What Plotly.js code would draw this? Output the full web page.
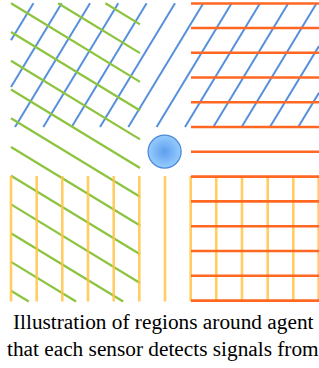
<!DOCTYPE html>
<html><head><meta charset="utf-8">
<script src="https://cdn.plot.ly/plotly-3.0.1.min.js"></script>
<style>html,body{margin:0;padding:0;background:#fff}#c{width:319px;height:368px}</style>
</head><body><div id="c"></div>
<script>
// ---- data (pixel units of the diagram) ----
// yellow vertical hatch (bottom half): x positions
const yellowX = [11, 36.7, 62.3, 88, 113.7, 139.3, 165, 190.7, 216.3, 242, 267.7, 293.3, 318.6];
const yellowBand = [176, 301.5];            // y extent
// orange horizontal hatch (right half): y positions
const orangeY = [3.5, 28, 52.7, 77.5, 102.2, 127, 151.8, 176.6, 201.4, 226.2, 251, 275.8, 300.6];
const orangeBand = [191, 319];              // x extent
// blue ascending hatch (top half): x where each line meets the top edge
const blueTopX = [33.4, 61.7, 90, 118.3, 146.6, 175, 203.3, 231.6, 260, 288.3, 316.6, 344.9, 373.2];
const blueSlope = 1.65;
const blueBox = [11, 319, 3.3, 127];        // x0,x1,y0,y1
// green descending hatch (left half): y where each line meets the left edge
const greenLeftY = [-54.2, -25.4, 3.3, 32, 60.8, 89.5, 118.2, 147, 175.7, 204.4, 233.2, 261.9, 290.7];
const greenSlope = 0.609;
const greenBox = [11, 140, 3.3, 301.5];
// agent
const agent = {x: [164.6], y: [151.6]};
const caption = ["Illustration of regions around agent", "that each sensor detects signals from"];

// ---- helpers ----
function clip(px, py, dx, dy, box) {
  let t0 = -1e5, t1 = 1e5;
  const p = [-dx, dx, -dy, dy], q = [px - box[0], box[1] - px, py - box[2], box[3] - py];
  for (let i = 0; i < 4; i++) {
    if (p[i] === 0) { if (q[i] < 0) return null; }
    else { const r = q[i] / p[i]; if (p[i] < 0) t0 = Math.max(t0, r); else t1 = Math.min(t1, r); }
  }
  if (t0 > t1) return null;
  return [[px + t0 * dx, py + t0 * dy], [px + t1 * dx, py + t1 * dy]];
}
function segTrace(segs, color, width) {
  const x = [], y = [];
  segs.forEach(s => { if (s) { x.push(s[0][0], s[1][0], null); y.push(s[0][1], s[1][1], null); } });
  return {type: 'scatter', mode: 'lines', x, y, line: {color, width}, hoverinfo: 'skip', showlegend: false, connectgaps: false};
}

const blue = segTrace(blueTopX.map(x0 => clip(x0, blueBox[2], -1, blueSlope, blueBox)), '#5690DC', 2);
const green = segTrace(greenLeftY.map(y0 => clip(greenBox[0], y0, 1, greenSlope, greenBox)), '#8CC43E', 2.2);
const yellow = segTrace(yellowX.map(x0 => [[x0, yellowBand[0]], [x0, yellowBand[1]]]), 'rgba(255,196,70,0.85)', 2.6);
const orange = segTrace(orangeY.map(y0 => [[orangeBand[0], y0], [orangeBand[1], y0]]), '#FF6722', 2.6);
const dot = {type: 'scatter', mode: 'markers', x: agent.x, y: agent.y, hoverinfo: 'skip', showlegend: false,
  marker: {size: 33, color: '#96CCFD', gradient: {type: 'radial', color: '#5E9EEE'}, line: {color: '#4C8ADA', width: 1.3}}};

const layout = {
  width: 319, height: 368, margin: {l: 0, r: 0, t: 0, b: 0},
  paper_bgcolor: '#fff', plot_bgcolor: '#fff',
  xaxis: {range: [0, 319], visible: false, fixedrange: true},
  yaxis: {range: [368, 0], visible: false, fixedrange: true},
  annotations: caption.map((t, i) => ({
    text: t, x: 163, y: 336 + i * 26.5, xref: 'x', yref: 'y', yanchor: 'bottom', xanchor: 'center',
    showarrow: false, font: {family: 'Liberation Serif, Times New Roman, serif', size: 21.3, color: '#000'}
  }))
};
Plotly.newPlot('c', [blue, green, yellow, orange, dot], layout, {staticPlot: true, displayModeBar: false});
</script></body></html>
